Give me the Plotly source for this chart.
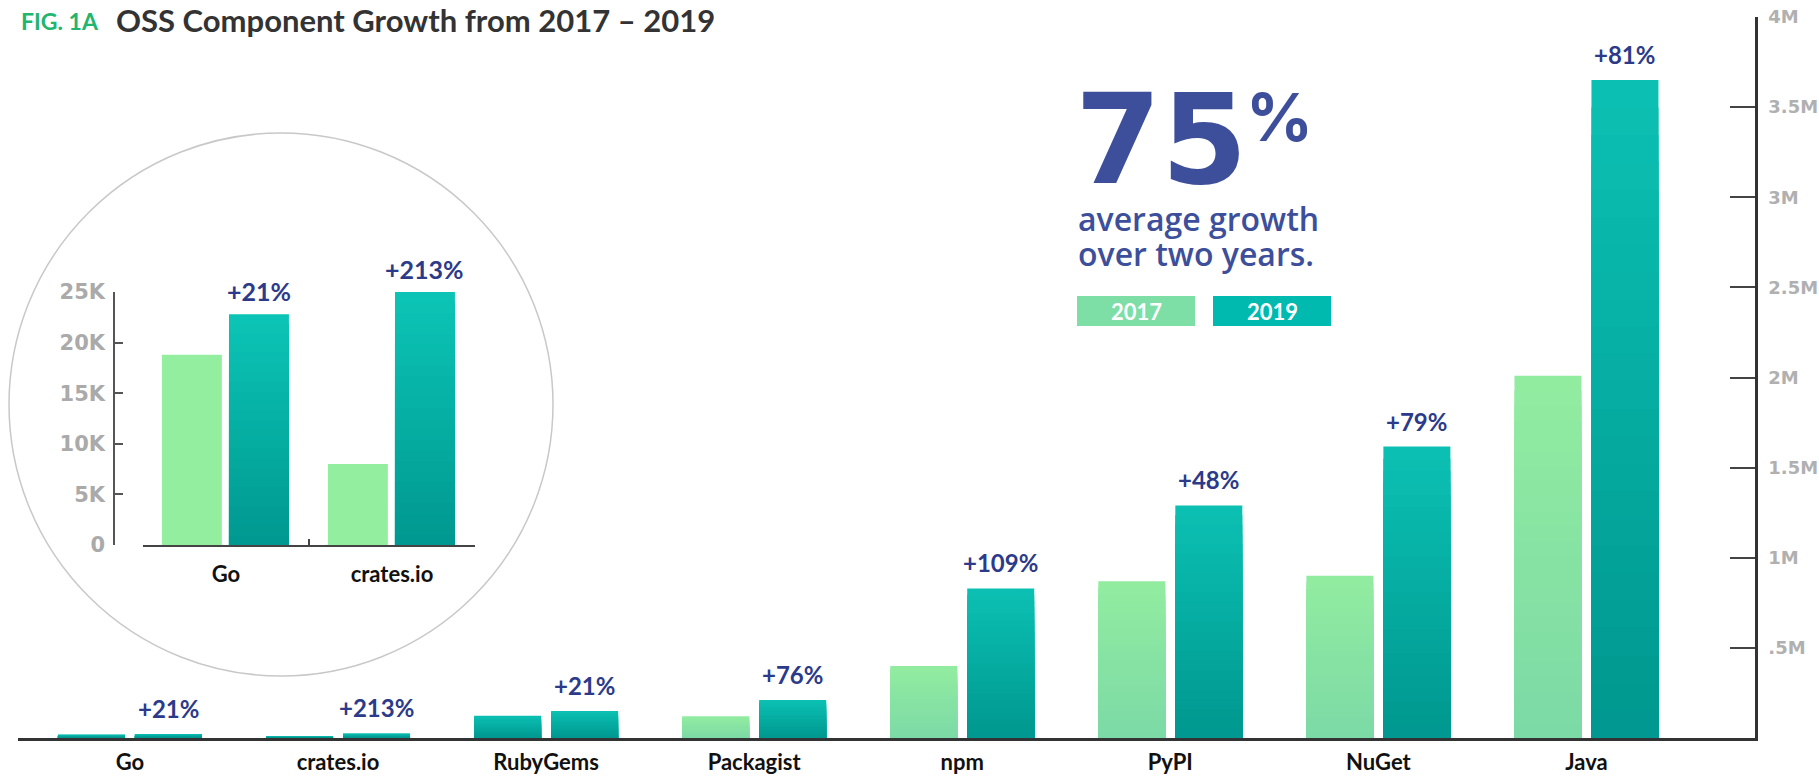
import plotly.graph_objects as go

# ---------------- data ----------------
categories = ["Go", "crates.io", "RubyGems", "Packagist", "npm", "PyPI", "NuGet", "Java"]
components_2017 = [18800, 8000, 124000, 120000, 400000, 870000, 900000, 2010000]
components_2019 = [22800, 25000, 150000, 211000, 830000, 1290000, 1617000, 3650000]
growth_labels = ["+21%", "+213%", "+21%", "+76%", "+109%", "+48%", "+79%", "+81%"]

inset_categories = ["Go", "crates.io"]
inset_2017 = [18800, 8000]
inset_2019 = [22800, 25000]
inset_growth = ["+21%", "+213%"]

main_tickvals = [500000, 1000000, 1500000, 2000000, 2500000, 3000000, 3500000, 4000000]
main_ticktext = [".5M", "1M", "1.5M", "2M", "2.5M", "3M", "3.5M", "4M"]
inset_tickvals = [0, 5000, 10000, 15000, 20000, 25000]
inset_ticktext = ["0", "5K", "10K", "15K", "20K", "25K"]

# ---------------- style ----------------
W, H = 1819, 778
FONT = "Lato"
NUMFONT = "DejaVu Sans"
NAVY = "#2c3a8a"
SLATE = "#3d4f9a"
TEAL_TOP, TEAL_BOT = (11, 192, 178), (0, 150, 142)
GREEN_TOP, GREEN_BOT = (146, 236, 160), (123, 217, 166)
# in the original, the 2017 bars of the three smallest ecosystems are drawn teal
teal_2017_style = [True, True, True, False, False, False, False, False]

BAR_W = 0.322
OFF_A, OFF_B = -0.346, 0.024
IN_W = 0.361
IN_OFF_A, IN_OFF_B = -0.386, 0.018


def px(x):
    return x / W


def py(y):
    return 1 - y / H


def lerp(c0, c1, t):
    return "rgb(%d,%d,%d)" % tuple(round(a + (b - a) * t) for a, b in zip(c0, c1))


fig = go.Figure()
N = 24

# main chart, 2017 (gradient via overlaid shrinking bars)
for k in range(N):
    f = 1 - k / N
    cols = [lerp(TEAL_BOT, TEAL_TOP, f) if t else lerp(GREEN_BOT, GREEN_TOP, f) for t in teal_2017_style]
    fig.add_trace(go.Bar(x=categories, y=[v * f for v in components_2017], width=BAR_W, offset=OFF_A,
                         marker=dict(color=cols, line=dict(width=0)), xaxis="x", yaxis="y",
                         hoverinfo="skip", showlegend=False))
# main chart, 2019
for k in range(N):
    f = 1 - k / N
    fig.add_trace(go.Bar(x=categories, y=[v * f for v in components_2019], width=BAR_W, offset=OFF_B,
                         marker=dict(color=lerp(TEAL_BOT, TEAL_TOP, f), line=dict(width=0)),
                         xaxis="x", yaxis="y", hoverinfo="skip", showlegend=False))

# inset 2017 (flat)
fig.add_trace(go.Bar(x=inset_categories, y=inset_2017, width=IN_W, offset=IN_OFF_A,
                     marker=dict(color="#93eea0", line=dict(width=0)), xaxis="x2", yaxis="y2",
                     hoverinfo="skip", showlegend=False))
# inset 2019 gradient
for k in range(N):
    f = 1 - k / N
    fig.add_trace(go.Bar(x=inset_categories, y=[v * f for v in inset_2019], width=IN_W, offset=IN_OFF_B,
                         marker=dict(color=lerp((0, 151, 143), (11, 196, 181), f), line=dict(width=0)),
                         xaxis="x2", yaxis="y2", hoverinfo="skip", showlegend=False))

annotations = []
for i, (v, t) in enumerate(zip(components_2019, growth_labels)):
    annotations.append(dict(x=i + OFF_B + BAR_W / 2, y=v, xref="x", yref="y", text=t, showarrow=False,
                            yanchor="bottom", yshift=9,
                            font=dict(family=FONT, size=24, color=NAVY, weight="bold")))
for i, (v, t) in enumerate(zip(inset_2019, inset_growth)):
    annotations.append(dict(x=i + IN_OFF_B + IN_W / 2, y=v, xref="x2", yref="y2", text=t, showarrow=False,
                            yanchor="bottom", yshift=6,
                            font=dict(family=FONT, size=25, color=NAVY, weight="bold")))

# title
annotations.append(dict(x=px(19), y=py(21), xref="paper", yref="paper", xanchor="left", yanchor="middle",
                        text="FIG. 1A", showarrow=False,
                        font=dict(family=FONT, size=23, color="#22b56f", weight="bold")))
annotations.append(dict(x=px(114), y=py(20), xref="paper", yref="paper", xanchor="left", yanchor="middle",
                        text="OSS Component Growth from 2017 – 2019", showarrow=False,
                        font=dict(family=FONT, size=31, color="#333333", weight="bold")))
# callout
annotations.append(dict(x=px(1073), y=py(140), xref="paper", yref="paper", xanchor="left", yanchor="middle",
                        text="75", showarrow=False,
                        font=dict(family="DejaVu Sans", size=124, color=SLATE, weight="bold")))
annotations.append(dict(x=px(1244), y=py(117), xref="paper", yref="paper", xanchor="left", yanchor="middle",
                        text="%", showarrow=False,
                        font=dict(family="Inter", size=66, color=SLATE, weight=700)))
annotations.append(dict(x=px(1076), y=py(218), xref="paper", yref="paper", xanchor="left", yanchor="middle",
                        text="average growth", showarrow=False,
                        font=dict(family="Open Sans", size=32, color=SLATE, weight=600)))
annotations.append(dict(x=px(1076), y=py(253), xref="paper", yref="paper", xanchor="left", yanchor="middle",
                        text="over two years.", showarrow=False,
                        font=dict(family="Open Sans", size=32, color=SLATE, weight=600)))
# legend boxes
shapes = [
    dict(type="circle", xref="paper", yref="paper", x0=px(9), x1=px(553), y0=py(676), y1=py(133),
         line=dict(color="#c8c8c8", width=1.5), layer="below"),
    dict(type="rect", xref="paper", yref="paper", x0=px(1077), x1=px(1195), y0=py(326), y1=py(296),
         fillcolor="#7ddea6", line=dict(width=0)),
    dict(type="rect", xref="paper", yref="paper", x0=px(1213), x1=px(1331), y0=py(326), y1=py(296),
         fillcolor="#00bab0", line=dict(width=0)),
]
for label, cx in (("2017", 1136), ("2019", 1272)):
    annotations.append(dict(x=px(cx), y=py(311), xref="paper", yref="paper", xanchor="center", yanchor="middle",
                            text=label, showarrow=False,
                            font=dict(family=FONT, size=22, color="white", weight="bold")))

fig.update_layout(
    width=W, height=H, margin=dict(l=0, r=0, t=0, b=0),
    paper_bgcolor="white", plot_bgcolor="rgba(0,0,0,0)",
    barmode="overlay", showlegend=False,
    font=dict(family=FONT),
    annotations=annotations, shapes=shapes,
    xaxis=dict(domain=[px(18), px(1755)], range=[-0.538, 7.81], type="category",
               showline=True, linecolor="#333333", linewidth=3, ticks="", showgrid=False, zeroline=False,
               tickfont=dict(family=FONT, size=22, color="#111111", weight="bold"),
               ticklabelstandoff=3, fixedrange=True, automargin=False),
    yaxis=dict(domain=[py(738), py(17)], range=[0, 4000000], side="right", anchor="x",
               showline=True, linecolor="#333333", linewidth=2.5, showgrid=False, zeroline=False,
               tickvals=main_tickvals, ticktext=main_ticktext, ticks="inside", ticklen=25,
               tickcolor="#444444", tickwidth=1.5, ticklabelstandoff=7,
               tickfont=dict(family=NUMFONT, size=18, color="#b0b0b0", weight="bold"),
               fixedrange=True, automargin=False),
    xaxis2=dict(domain=[px(143), px(475)], range=[-0.5, 1.5], type="category", anchor="y2",
                showline=True, linecolor="#444444", linewidth=1.5, showgrid=False, zeroline=False,
                ticks="inside", tickson="boundaries", ticklen=6, tickcolor="#444444", tickwidth=1.5,
                tickfont=dict(family=FONT, size=22, color="#111111", weight="bold"),
                ticklabelstandoff=9, fixedrange=True, automargin=False),
    yaxis2=dict(domain=[py(545), py(292)], range=[0, 25000], anchor="free", position=px(114), side="left",
                showline=True, linecolor="#555555", linewidth=1.5, showgrid=False, zeroline=False,
                tickvals=inset_tickvals, ticktext=inset_ticktext, ticks="inside", ticklen=8,
                tickcolor="#555555", tickwidth=1.5, ticklabelstandoff=4,
                tickfont=dict(family=NUMFONT, size=21, color="#aaaaaa", weight="bold"),
                fixedrange=True, automargin=False),
)

fig.write_html("out.html", config={"displayModeBar": False},
               post_script="document.body.style.margin='0';")
